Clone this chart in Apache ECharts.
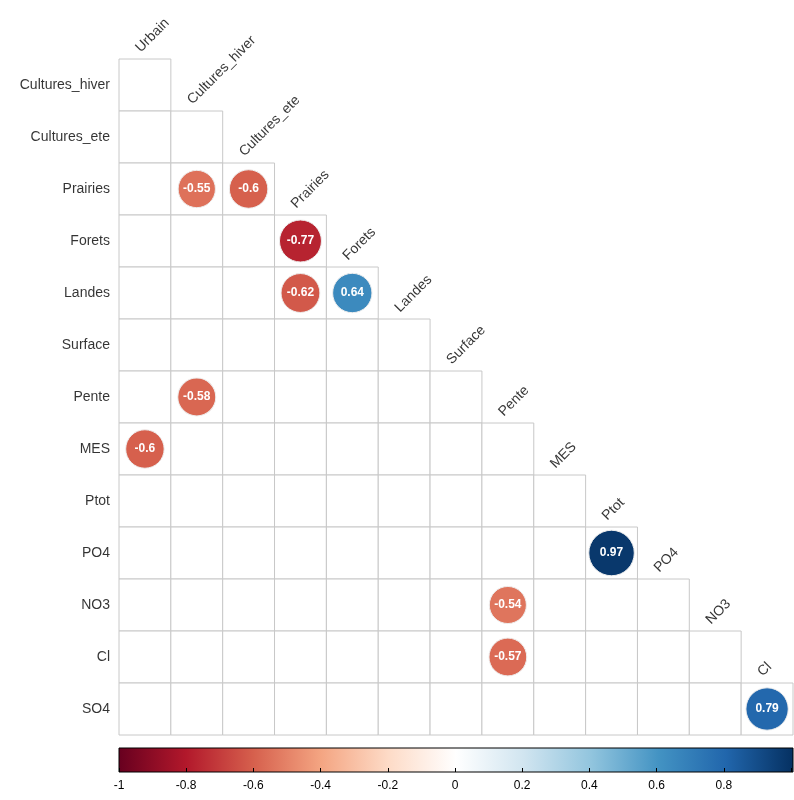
<!DOCTYPE html>
<html>
<head>
<meta charset="UTF-8">
<title></title>
<script src="https://cdn.jsdelivr.net/npm/echarts@6/dist/echarts.min.js"></script>
</head>
<body style="margin:0">
<div id="main" style="width:794px;height:800px"></div>
<script>
var colNames = ['Urbain', 'Cultures_hiver', 'Cultures_ete', 'Prairies', 'Forets', 'Landes', 'Surface', 'Pente', 'MES', 'Ptot', 'PO4', 'NO3', 'Cl'];
var rowNames = ['Cultures_hiver', 'Cultures_ete', 'Prairies', 'Forets', 'Landes', 'Surface', 'Pente', 'MES', 'Ptot', 'PO4', 'NO3', 'Cl', 'SO4'];
// [column index, row index, r]
var corrs = [
	[1, 2, -0.55], [2, 2, -0.6], [3, 3, -0.77], [3, 4, -0.62], [4, 4, 0.64],
	[1, 6, -0.58], [0, 7, -0.6], [9, 9, 0.97], [7, 10, -0.54], [7, 11, -0.57], [12, 12, 0.79]
];
var barTicks = [-1, -0.8, -0.6, -0.4, -0.2, 0, 0.2, 0.4, 0.6, 0.8];
var palette = ['#67001F', '#B2182B', '#D6604D', '#F4A582', '#FDDBC7', '#FFFFFF', '#D1E5F0', '#92C5DE', '#4393C3', '#2166AC', '#053061'];

function colorOf(v) {
	var t = (v + 1) / 2 * (palette.length - 1);
	var i = Math.min(Math.floor(t), palette.length - 2), f = t - i;
	var a = echarts.color.parse(palette[i]), b = echarts.color.parse(palette[i + 1]);
	return 'rgb(' + [0, 1, 2].map(function(k) { return Math.round(a[k] + (b[k] - a[k]) * f); }).join(',') + ')';
}

var cells = [];
rowNames.forEach(function(r, i) {
	for (var j = 0; j <= i; j++) cells.push([j, i]);
});

var L = 119, T = 59, W = 674, H = 676;
var stops = palette.map(function(c, i) { return { offset: i / (palette.length - 1), color: c }; });

var myCharts = echarts.init(document.querySelector('#main'));
myCharts.setOption({
	animation: false,
	textStyle: { fontFamily: 'Liberation Sans, Arial, sans-serif' },
	grid: [
		{ left: L, top: T, width: W, height: H },
		{ left: L, top: 748, width: W, height: 24 }
	],
	xAxis: [
		{ type: 'value', min: 0, max: 13, show: false },
		{ gridIndex: 1, type: 'value', min: -1, max: 1, interval: 0.2,
			axisLine: { show: false }, splitLine: { show: false },
			axisTick: { show: true, inside: true, length: 4, lineStyle: { color: '#000' } },
			axisLabel: { color: '#000', fontSize: 12, margin: 8,
				formatter: function(v) { return barTicks.indexOf(Math.round(v * 10) / 10) >= 0 ? String(Math.round(v * 10) / 10) : ''; } } }
	],
	yAxis: [
		{ type: 'value', min: 0, max: 13, inverse: true, show: false },
		{ gridIndex: 1, type: 'value', min: 0, max: 1, show: false }
	],
	graphic: [{
		type: 'rect', shape: { x: L, y: 748, width: W, height: 24 },
		style: { fill: new echarts.graphic.LinearGradient(0, 0, 1, 0, stops), stroke: '#000', lineWidth: 1 }
	}],
	series: [
		{
			type: 'custom', silent: true, data: cells,
			renderItem: function(params, api) {
				var p0 = api.coord([api.value(0), api.value(1)]);
				var p1 = api.coord([api.value(0) + 1, api.value(1) + 1]);
				return { type: 'rect', shape: { x: p0[0], y: p0[1], width: p1[0] - p0[0], height: p1[1] - p0[1] },
					style: { fill: '#fff', stroke: '#c8c8c8', lineWidth: 1 } };
			}
		},
		{
			type: 'scatter', silent: true,
			data: corrs.map(function(d) {
				return { value: [d[0] + 0.5, d[1] + 0.5, d[2]], itemStyle: { color: colorOf(d[2]) } };
			}),
			symbolSize: function(v) { return 46 * Math.pow(Math.abs(v[2]), 0.35); },
			itemStyle: { borderColor: '#eee', borderWidth: 1, opacity: 1 },
			label: { show: true, position: 'inside', color: '#fff', fontWeight: 'bold', fontSize: 12,
				formatter: function(p) { return String(p.value[2]); } }
		},
		{
			type: 'scatter', silent: true, symbolSize: 0,
			data: rowNames.map(function(n, i) { return [0, i + 0.5, n]; }),
			label: { show: true, position: 'left', distance: 9, color: '#000', fontSize: 14,
				formatter: function(p) { return p.value[2]; } }
		},
		{
			type: 'scatter', silent: true, symbolSize: 0,
			data: colNames.map(function(n, j) { return [j + 0.5, j, n]; }),
			label: { show: true, position: [-2, -4], rotate: 45, align: 'left', verticalAlign: 'bottom',
				color: '#000', fontSize: 14, formatter: function(p) { return p.value[2]; } }
		},
		{ type: 'scatter', xAxisIndex: 1, yAxisIndex: 1, data: [], silent: true }
	]
});
</script>
</body>
</html>
